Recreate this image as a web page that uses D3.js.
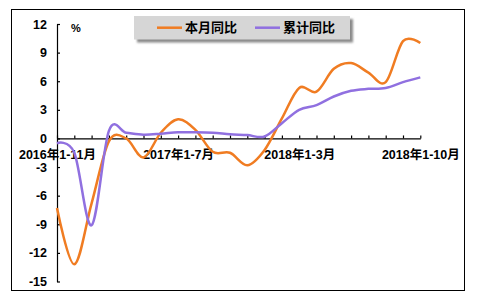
<!DOCTYPE html>
<html>
<head>
<meta charset="utf-8">
<script src="https://cdn.jsdelivr.net/npm/d3@7"></script>
<style>
  body { margin: 0; background: #fff; }
  svg text { font-family: "Liberation Sans", Arial, "Noto Sans CJK SC", sans-serif; font-weight: bold; }
</style>
</head>
<body>
<div id="chart"></div>
<script>
// categories: cumulative periods, one per month report
const categories = [
  "2016年1-11月", "2016年1-12月", "2017年1-2月", "2017年1-3月", "2017年1-4月", "2017年1-5月",
  "2017年1-6月", "2017年1-7月", "2017年1-8月", "2017年1-9月", "2017年1-10月", "2017年1-11月",
  "2017年1-12月", "2018年1-2月", "2018年1-3月", "2018年1-4月", "2018年1-5月", "2018年1-6月",
  "2018年1-7月", "2018年1-8月", "2018年1-9月", "2018年1-10月"
];
const seriesNames = ["本月同比", "累计同比"];
const monthYoY = [-7.3, -13.2, -6.8, -0.3, 0.0, -2.0, 0.6, 2.0, 0.9, -1.4, -1.5, -2.8,
                  -1.2, 2.1, 5.3, 4.9, 7.3, 7.9, 6.9, 5.9, 10.2, 10.0];
const cumYoY   = [-0.5, -1.5, -9.1, 0.8, 0.6, 0.4, 0.5, 0.65, 0.65, 0.6, 0.45, 0.35,
                  0.2, 1.6, 3.0, 3.5, 4.4, 5.0, 5.2, 5.3, 5.9, 6.4];
const yTicks = [-15, -12, -9, -6, -3, 0, 3, 6, 9, 12];
const unitLabel = "%";

const colors = ["#F07C22", "#9070E0"];

function add_svg(wrapper)
{
  return d3.select(wrapper).append("svg")
    .attr("width", 479)
    .attr("height", 298);
}

function draw_chart(wrapper)
{
  let svg = add_svg(wrapper);

  // outer frame
  svg.append("rect")
    .attr("x", 11.5).attr("y", 9.5)
    .attr("width", 453).attr("height", 281)
    .attr("fill", "white")
    .attr("stroke", "black")
    .attr("stroke-width", 1);

  let x = d3.scalePoint().domain(categories).range([57, 420.3]);
  let y = d3.scaleLinear().domain([-15, 12]).range([281.5, 24]);

  // y axis, ticks inside, plain hyphen for minus
  svg.append("g")
    .attr("class", "y_axis")
    .attr("transform", "translate(57, 0)")
    .call(d3.axisLeft(y).tickValues(yTicks).tickSizeInner(-3).tickSizeOuter(0).tickPadding(10)
      .tickFormat(d => String(d)))
    .call(g => g.selectAll("text").attr("font-size", "12.5px").attr("fill", "black"));

  // x axis on zero line
  svg.append("g")
    .attr("class", "x_axis")
    .attr("transform", `translate(0, ${y(0)})`)
    .call(d3.axisBottom(x).tickSizeInner(-3).tickSizeOuter(0).tickPadding(12)
      .tickFormat((d, i) => i % 7 == 0 ? d : ""))
    .call(g => g.selectAll("text").attr("font-size", "12.5px").attr("fill", "black"));

  svg.selectAll(".domain, .tick line").attr("stroke", "black").attr("stroke-width", 1.2);

  svg.append("text")
    .attr("x", 71).attr("y", 32)
    .attr("font-size", "11px")
    .text(unitLabel);

  // lines
  let line = d3.line()
    .x((d, i) => x(categories[i]))
    .y(d => y(d))
    .curve(d3.curveCatmullRom.alpha(0));

  [monthYoY, cumYoY].forEach(function (values, k) {
    svg.append("path")
      .datum(values)
      .attr("d", line)
      .attr("fill", "none")
      .attr("stroke", colors[k])
      .attr("stroke-width", 2.5);
  });

  // legend with shadow
  let defs = svg.append("defs");
  defs.append("filter").attr("id", "blur")
    .append("feGaussianBlur").attr("stdDeviation", 1.2);

  let legend = svg.append("g").attr("transform", "translate(134, 16)");
  legend.append("rect")
    .attr("x", 3).attr("y", 3)
    .attr("width", 216).attr("height", 23.5)
    .attr("fill", "#8a8a8a")
    .attr("filter", "url(#blur)");
  legend.append("rect")
    .attr("width", 216).attr("height", 23.5)
    .attr("fill", "#d6d6d6");

  let items = legend.selectAll("g.item")
    .data(seriesNames)
    .join("g")
    .attr("class", "item")
    .attr("transform", (d, i) => `translate(${23 + i * 98}, 11.7)`);
  items.append("line")
    .attr("x1", 0).attr("x2", 25)
    .attr("stroke", (d, i) => colors[i])
    .attr("stroke-width", 2.5);
  items.append("text")
    .attr("x", 28).attr("y", 4.6)
    .attr("font-size", "13px")
    .text(d => d);
}

draw_chart("#chart");
</script>
</body>
</html>
